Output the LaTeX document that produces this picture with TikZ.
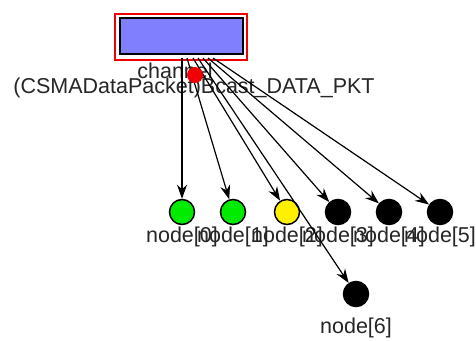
\documentclass[tikz,border=0pt]{standalone}
\usepackage{fontspec}
\setmainfont{Liberation Sans}
\usetikzlibrary{arrows.meta}
\definecolor{hostgreen}{RGB}{0,235,0}
\definecolor{hostyellow}{RGB}{255,240,0}
\definecolor{chanblue}{RGB}{128,128,255}
\definecolor{msgred}{RGB}{240,0,0}
\begin{document}
\begin{tikzpicture}[x=1pt,y=-1pt,
  lbl/.style={font=\fontsize{21.5}{23}\selectfont, inner sep=0pt, text=black!85},
  host/.style={circle, draw=black, line width=1.5pt, minimum size=25pt, inner sep=0pt},
  link/.style={-{Stealth[length=14pt,width=10pt]}, line width=1.2pt}]
\useasboundingbox (0,0) rectangle (476,340);
\fill[white] (0,0) rectangle (476,340);
% the channel module
\node[draw=msgred, line width=2.5pt, minimum width=132pt, minimum height=46pt, inner sep=0pt] (chanframe) at (181,37) {};
\node[draw=black, fill=chanblue, line width=2pt, minimum width=123pt, minimum height=36pt, inner sep=0pt] (chan) at (181,36) {};
\node[lbl] (chanlabel) at (175,71) {channel};
\node[lbl] (pktlabel) at (194,88) {(CSMADataPacket)Bcast\_DATA\_PKT};
% hosts
\node[host, fill=hostgreen] (n0) at (182,212) {};
\node[host, fill=hostgreen] (n1) at (233,212) {};
\node[host, fill=hostyellow] (n2) at (287,212) {};
\node[host, fill=black] (n3) at (338,212) {};
\node[host, fill=black] (n4) at (389,212) {};
\node[host, fill=black] (n5) at (440,212) {};
\node[host, fill=black] (n6) at (356,294) {};
\node[lbl] (l0) at (182,237) {node[0]};
\node[lbl] (l1) at (233,237) {node[1]};
\node[lbl] (l2) at (287,237) {node[2]};
\node[lbl] (l3) at (338,237) {node[3]};
\node[lbl] (l4) at (389,237) {node[4]};
\node[lbl] (l5) at (440,237) {node[5]};
\node[lbl] (l6) at (356,328) {node[6]};
% gate points on the channel's lower edge
\coordinate (g0) at (182,58);
\coordinate (g1) at (187,58);
\coordinate (g2) at (193,58);
\coordinate (g6) at (198,58);
\coordinate (g3) at (203,58);
\coordinate (g4) at (208,58);
\coordinate (g5) at (213,58);
% links
\draw[link] (g0) -- (n0);
\draw[link] (g1) -- (n1);
\draw[link] (g2) -- (n2);
\draw[link] (g6) -- (n6);
\draw[link] (g3) -- (n3);
\draw[link] (g4) -- (n4);
\draw[link] (g5) -- (n5);
% message in flight
\node[circle, fill=msgred, minimum size=16pt, inner sep=0pt] (msg) at (195,75) {};
\end{tikzpicture}
\end{document}
